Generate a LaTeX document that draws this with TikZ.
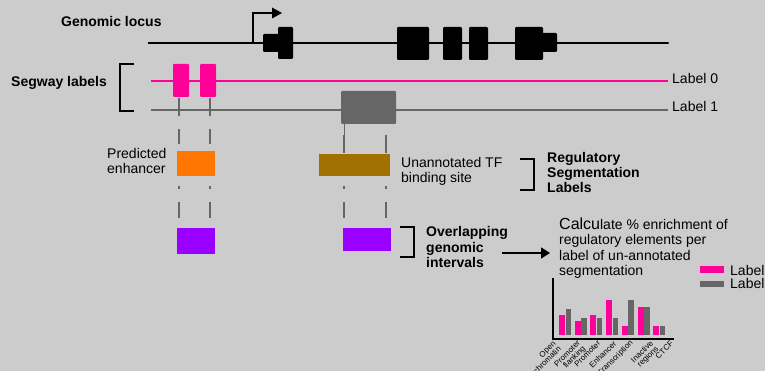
\documentclass[tikz,border=0pt]{standalone}
\usepackage{fontspec}
\setmainfont{Liberation Sans}
\usetikzlibrary{arrows.meta}
\definecolor{bg}{RGB}{204,204,204}
\definecolor{segpink}{RGB}{255,0,153}
\definecolor{seggray}{RGB}{102,102,102}
\definecolor{enhorange}{RGB}{255,119,0}
\definecolor{tfbrown}{RGB}{160,112,0}
\definecolor{ovpurple}{RGB}{153,0,255}
\begin{document}
\begin{tikzpicture}[x=1pt,y=-1pt,
  lbl/.style={inner sep=0pt, font=\fontsize{14}{15.5}\selectfont, align=left, anchor=base west},
  blbl/.style={inner sep=0pt, font=\fontsize{14}{15.3}\selectfont\bfseries, align=left, anchor=base west},
  tick/.style={inner sep=0pt, font=\fontsize{8}{7.5}\selectfont, rotate=45, anchor=east, align=right},
  exon/.style={fill=black, rounded corners=1.2pt},
  dsh/.style={seggray, line width=1.5pt},
  brk/.style={black, line width=1.8pt},
]
\clip (0,0) rectangle (765,371);
\fill[bg] (0,0) rectangle (765,371);

% genomic locus
\node[blbl] (gl) at (61,26.5) {Genomic locus};
\draw[line width=1.6pt] (148,43) -- (668,43);
\fill (668,43) circle (1pt);
\draw[line width=1.6pt] (253,43) -- (253,13) -- (273,13);
\fill (272,7.5) -- (282,13) -- (272,18.5) -- cycle;
\fill[exon] (263,34) rectangle (280,52);
\fill[exon] (278,27) rectangle (293,59);
\fill[exon] (397,27) rectangle (429,60);
\fill[exon] (443,27) rectangle (462,60);
\fill[exon] (469,27) rectangle (488,60);
\fill[exon] (540,33) rectangle (557,52);
\fill[exon] (515,27) rectangle (543,60);

% segway labels
\node[blbl] (sl) at (11,87) {Segway labels};
\draw[brk] (134,64) -- (120,64) -- (120,111) -- (134,111);
\draw[segpink, line width=2pt] (151,81) -- (668,81);
\draw[seggray, line width=2pt] (151,110) -- (668,110);
\node[lbl] (l0) at (672,83.3) {Label 0};
\node[lbl] (l1) at (672,112) {Label 1};
\fill[segpink, rounded corners=1pt] (173,64) rectangle (189,97);
\fill[segpink, rounded corners=1pt] (200,64) rectangle (216,97);
\fill[seggray, rounded corners=1pt] (341,91) rectangle (396,124);

% dashed guides
\foreach \x in {179,210} {
  \draw[dsh] (\x,98) -- (\x,116);
  \draw[dsh] (\x,129) -- (\x,144);
}
\draw[seggray, line width=0.6pt] (344,124) -- (344,135);
\foreach \x in {179,210,344,386} {
  \draw[dsh] (\x,186) -- (\x,189);
  \draw[dsh] (\x,202) -- (\x,218);
}
\foreach \x in {344,386} \draw[dsh] (\x,135) -- (\x,153);

% regulatory elements
\fill[enhorange] (177,151) rectangle (215,176);
\fill[tfbrown] (319,154) rectangle (390,176);
\fill[ovpurple] (177,228) rectangle (215,254);
\fill[ovpurple] (343,228) rectangle (391,251);
\node[lbl] (pe) at (107,174) {Predicted\\enhancer};
\node[lbl] (tf) at (401,183) {Unannotated TF\\binding site};
\draw[brk] (520,159) -- (534,159) -- (534,190) -- (520,190);
\node[blbl] (rsl) at (547,192.7) {Regulatory\\Segmentation\\Labels};
\draw[brk] (400,227) -- (414,227) -- (414,257) -- (400,257);
\node[blbl] (ogi) at (426,267.3) {Overlapping\\genomic\\intervals};

% arrow and calculation text
\coordinate (as) at (502,253);
\coordinate (ae) at (550,253);
\draw[line width=1.6pt, -{Triangle[length=9pt,width=11pt]}] (as) -- (ae);
\node[lbl] (calc) at (559,275.7) {{\fontsize{16}{16}\selectfont Calcu}late \% enrichment of\\regulatory elements per\\label of un-annotated\\segmentation};

% legend
\fill[segpink] (700,266) rectangle (724,273);
\fill[seggray] (700,280.5) rectangle (724,286.5);
\node[lbl] (lg0) at (730,275) {Label};
\node[lbl] (lg1) at (730,288.3) {Label};

% bar chart
\foreach \i/\p/\g in {0/315/309, 1/321/318, 2/315/318, 3/300/318, 4/326/300, 5/307/307, 6/326/326} {
  \pgfmathsetmacro{\xa}{559+15.7*\i}
  \fill[segpink] (\xa,\p) rectangle ({\xa+6},335);
  \fill[seggray] ({\xa+6.5},\g) rectangle ({\xa+12},335);
}
\draw[line width=2pt] (553,278) -- (553,339) -- (674,339);
\node[tick] (t1) at (557,345) {Open\\chromatin};
\node[tick] (t2) at (582,345) {Promoter\\flanking};
\node[tick] (t3) at (599,342) {Promoter};
\node[tick] (t4) at (615,342) {Enhancer};
\node[tick] (t5) at (632,342) {Transcription};
\node[tick] (t6) at (655,345) {Inactive\\regions};
\node[tick] (t7) at (672,342) {CTCF};
\end{tikzpicture}
\end{document}
